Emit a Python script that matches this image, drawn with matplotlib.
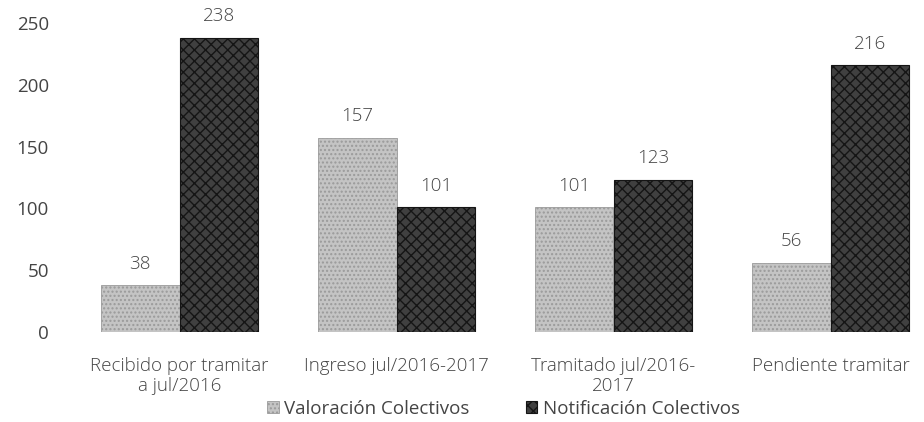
import matplotlib.pyplot as plt
import numpy as np

plt.rcParams['font.family'] = ['Open Sans', 'DejaVu Sans']

categories = ["Recibido por tramitar\na jul/2016", "Ingreso jul/2016-2017",
              "Tramitado jul/2016-\n2017", "Pendiente tramitar"]
valoracion = [38, 157, 101, 56]
notificacion = [238, 101, 123, 216]
series_names = ["Valoración Colectivos", "Notificación Colectivos"]

fig = plt.figure(figsize=(9.24, 4.22), dpi=100)
# right edge of the plot area is cut off by the image, as in the original
ax = fig.add_axes([71 / 924, 1 - 332 / 422, 1 - 71 / 924, (332 - 23) / 422])

x = np.arange(len(categories))
w = 0.364
txt = '#444444'
fs = 13.5

b1 = ax.bar(x - w / 2, valoracion, w, color='#c4c4c4', edgecolor='#9a9a9a',
            hatch='....', linewidth=0.6, label=series_names[0])
b2 = ax.bar(x + w / 2, notificacion, w, color='#404040', edgecolor='#151515',
            hatch='xxx', linewidth=0.8, label=series_names[1])

ax.bar_label(b1, padding=9, fontsize=fs, color=txt, fontweight='light')
ax.bar_label(b2, padding=9, fontsize=fs, color=txt, fontweight='light')

ax.set_ylim(0, 250)
ax.set_yticks(range(0, 251, 50))
ax.set_xlim(-0.5, 3.5 - 15 / 217)
ax.set_xticks(x)
ax.set_xticklabels(categories, fontsize=fs, color=txt, fontweight='light',
                   linespacing=1.15)
ax.tick_params(axis='y', labelsize=fs, labelcolor=txt, length=0, pad=16)
ax.tick_params(axis='x', length=0, pad=18)
for s in ax.spines.values():
    s.set_visible(False)

fig.legend(handles=[b1, b2], labels=series_names, loc='lower center',
           bbox_to_anchor=(0.545, -0.03), ncol=2, frameon=False,
           fontsize=fs, labelcolor=txt, handlelength=0.6, handleheight=0.6,
           handletextpad=0.3, columnspacing=3.0)

fig.savefig('out.png', dpi=100)
